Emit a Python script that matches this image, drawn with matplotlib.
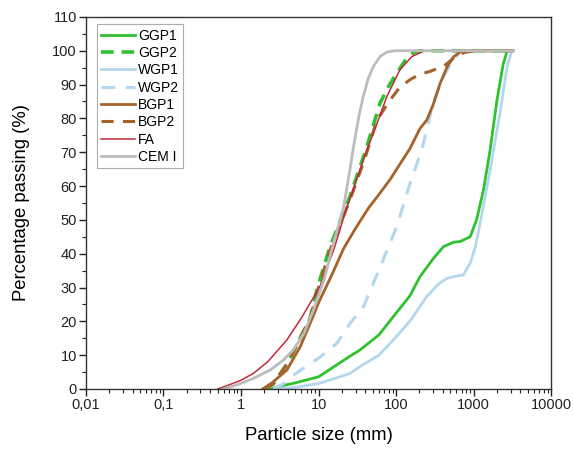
import numpy as np
import matplotlib
matplotlib.use("Agg")
import matplotlib.pyplot as plt
from matplotlib.ticker import FixedLocator, MultipleLocator, LogLocator, NullFormatter

plt.rcParams['font.family'] = ['Liberation Sans', 'DejaVu Sans']

# particle size (mm) / percentage passing (%)
ggp1_x = [2.4, 3.0, 5.0, 10, 25, 34, 60, 92, 150, 203, 300, 409, 550, 670, 900, 1090, 1340, 1630, 2000, 2400, 2700, 3200]
ggp1_y = [0, 0.7, 1.8, 3.6, 9.6, 11.5, 16.0, 21.4, 27.5, 33.2, 38.5, 42.1, 43.4, 43.6, 45.0, 50.0, 58.9, 70.7, 85.5, 96.0, 100, 100]

ggp2_x = [2.0, 2.6, 4.0, 5.5, 7.8, 9.5, 14, 25.5, 42, 62, 80, 102, 130, 165, 200, 3200]
ggp2_y = [0, 1.5, 7.7, 14.0, 21.0, 29.3, 42.0, 57.0, 71.7, 84.5, 89.5, 93.4, 97.0, 99.3, 100, 100]

wgp1_x = [3.0, 5.0, 10, 25.5, 34, 60, 92, 150, 248, 350, 450, 600, 735, 900, 1050, 1210, 1630, 2200, 2700, 3100, 3200]
wgp1_y = [0, 0.5, 1.6, 4.6, 6.6, 10.0, 14.5, 20.0, 27.3, 31.0, 32.7, 33.4, 33.7, 37.2, 42.0, 49.0, 64.8, 82.0, 95.4, 100, 100]

wgp2_x = [2.6, 3.5, 4.7, 7.0, 10.4, 17.2, 25.5, 38, 68, 102, 151, 214, 300, 400, 550, 700, 3200]
wgp2_y = [0, 1.5, 4.0, 6.8, 9.4, 13.5, 19.4, 24.4, 38.2, 48.0, 60.8, 70.7, 84.5, 92.0, 97.5, 100, 100]

bgp1_x = [1.9, 2.5, 3.9, 5.8, 8.5, 10, 15, 21, 30, 44, 60, 84, 112, 150, 203, 248, 300, 370, 450, 550, 700, 3200]
bgp1_y = [0, 1.8, 5.6, 12.5, 21.5, 25.5, 34.0, 41.5, 47.5, 53.5, 57.5, 62.0, 66.5, 71.0, 77.0, 79.5, 84.0, 90.4, 95.0, 98.2, 100, 100]

bgp2_x = [2.0, 2.6, 4.0, 5.5, 7.8, 9.5, 14, 25.5, 40, 56.5, 84, 110, 150, 200, 274, 409, 500, 608, 800, 1100, 3200]
bgp2_y = [0, 1.5, 7.7, 14.0, 21.0, 28.4, 41.0, 56.0, 68.5, 79.5, 85.5, 89.0, 91.4, 93.0, 93.9, 95.4, 97.0, 98.8, 99.6, 100, 100]

fa_x = [0.5, 0.7, 1.0, 1.44, 2.2, 3.9, 6.0, 10.4, 15.6, 23, 42, 60, 76, 112, 160, 223, 260, 3200]
fa_y = [0, 1.2, 2.6, 4.6, 8.0, 14.5, 21.0, 30.3, 41.0, 53.5, 70.7, 80.0, 86.5, 94.4, 98.3, 99.8, 100, 100]

cem_x = [0.6, 0.88, 1.4, 2.37, 3.5, 4.7, 6.5, 8.6, 12, 15.5, 20.9, 25, 28.2, 33, 37.7, 44, 51, 62, 76, 95, 3200]
cem_y = [0, 1.2, 3.0, 5.6, 8.5, 11.5, 16.5, 23.4, 33.0, 43.0, 53.5, 64.0, 71.5, 80.5, 86.5, 92.0, 95.4, 98.3, 99.6, 100, 100]

labels = ['GGP1', 'GGP2', 'WGP1', 'WGP2', 'BGP1', 'BGP2', 'FA', 'CEM I']

green = '#2fc12f'
lblue = '#b3d7ee'
brown = '#a5632b'
red = '#c3283c'
grey = '#bcbcbc'

fig = plt.figure(figsize=(5.73, 4.51), dpi=100)
ax = fig.add_axes([0.150, 0.1375, 0.812, 0.825])

ax.plot(ggp1_x, ggp1_y, color=green, lw=2.0, label=labels[0])
ax.plot(ggp2_x, ggp2_y, color=green, lw=2.6, ls=(0, (3.5, 2.2)), label=labels[1])
ax.plot(wgp1_x, wgp1_y, color=lblue, lw=2.0, label=labels[2])
ax.plot(wgp2_x, wgp2_y, color=lblue, lw=2.2, ls=(0, (4.5, 3.5)), label=labels[3])
ax.plot(bgp1_x, bgp1_y, color=brown, lw=2.0, label=labels[4])
ax.plot(bgp2_x, bgp2_y, color=brown, lw=2.2, ls=(0, (4.0, 3.0)), label=labels[5])
ax.plot(fa_x, fa_y, color=red, lw=1.1, label=labels[6])
ax.plot(cem_x, cem_y, color=grey, lw=2.0, label=labels[7])

ax.set_xscale('log')
ax.set_xlim(0.01, 10000)
ax.set_ylim(0, 110)

xticks = [0.01, 0.1, 1, 10, 100, 1000, 10000]
xtick_labels = ['0,01', '0,1', '1', '10', '100', '1000', '10000']
ax.xaxis.set_major_locator(FixedLocator(xticks))
ax.set_xticklabels(xtick_labels)
ax.xaxis.set_minor_locator(LogLocator(base=10, subs=np.arange(2, 10), numticks=20))
ax.xaxis.set_minor_formatter(NullFormatter())
ax.yaxis.set_major_locator(MultipleLocator(10))
ax.yaxis.set_minor_locator(MultipleLocator(5))

ax.tick_params(which='major', direction='out', length=5, width=1, labelsize=10.5,
               colors='#222222', pad=1.5)
ax.tick_params(which='minor', direction='out', length=3, width=0.8, colors='#222222')
for sp in ax.spines.values():
    sp.set_linewidth(1.0)
    sp.set_color('#333333')

ax.set_xlabel('Particle size (mm)', fontsize=13.3, labelpad=11)
ax.set_ylabel('Percentage passing (%)', fontsize=13.3, labelpad=16)

leg = ax.legend(loc='upper left', bbox_to_anchor=(0.024, 0.98), fontsize=10,
                frameon=True, fancybox=False, handlelength=2.4, handletextpad=0.25,
                labelspacing=0.24, borderpad=0.3, borderaxespad=0.0)
leg.get_frame().set_edgecolor('#999999')
leg.get_frame().set_linewidth(0.8)

fig.savefig('out.png', dpi=100)
